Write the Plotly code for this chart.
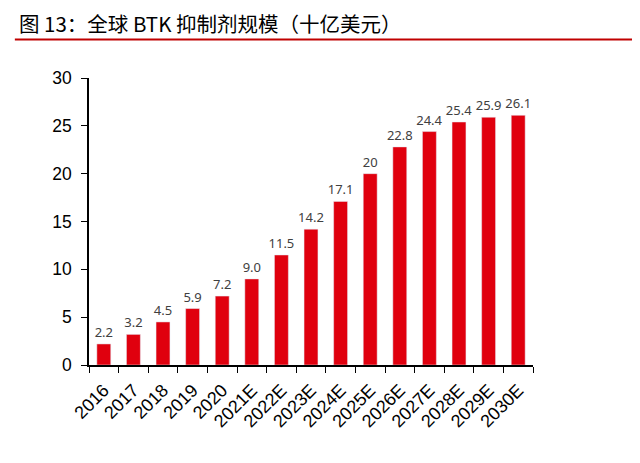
import plotly.graph_objects as go

categories = ["2016", "2017", "2018", "2019", "2020", "2021E", "2022E", "2023E",
              "2024E", "2025E", "2026E", "2027E", "2028E", "2029E", "2030E"]
values = [2.2, 3.2, 4.5, 5.9, 7.2, 9.0, 11.5, 14.2, 17.1, 20, 22.8, 24.4, 25.4, 25.9, 26.1]
labels = ["2.2", "3.2", "4.5", "5.9", "7.2", "9.0", "11.5", "14.2", "17.1", "20",
          "22.8", "24.4", "25.4", "25.9", "26.1"]
y_ticks = [0, 5, 10, 15, 20, 25, 30]
title = "图 13：全球 BTK 抑制剂规模（十亿美元）"

fig = go.Figure(go.Bar(
    x=categories, y=values, text=labels, textposition="outside",
    textfont=dict(family="Noto Sans, DejaVu Sans", size=13, color="#404040"),
    marker=dict(color="#E0000E"), cliponaxis=False,
))

fig.update_layout(
    width=640, height=463, plot_bgcolor="white", paper_bgcolor="white",
    margin=dict(l=81, r=115, t=70, b=106, autoexpand=False),
    bargap=0.53, showlegend=False,
    uniformtext=dict(minsize=13, mode="show"),
    font=dict(family="Liberation Sans, Arial", color="black"),
    shapes=[dict(type="line", xref="paper", yref="paper", x0=-0.167, x1=1.3,
                 y0=1.134, y1=1.134, line=dict(color="#C00000", width=2))],
    annotations=[dict(text=title, xref="paper", yref="paper", x=-0.162, y=1.19,
                      xanchor="left", yanchor="middle", showarrow=False,
                      font=dict(family="Noto Sans CJK SC", size=20.5, color="black"))],
)
fig.update_yaxes(range=[0, 30], tickvals=y_ticks, showline=True, linecolor="black",
                 linewidth=1.5, ticks="outside", ticklen=6, tickcolor="black",
                 showgrid=False, zeroline=False, tickfont=dict(size=17.5), automargin=False,
                 ticklabelstandoff=6)
fig.update_xaxes(showline=True, linecolor="black", linewidth=1.5, ticks="outside",
                 ticklen=6, tickcolor="black", tickson="boundaries", tickangle=-45,
                 tickfont=dict(size=18), showgrid=False, automargin=False,
                 ticklabelstandoff=6)

fig.write_html("out.html")
